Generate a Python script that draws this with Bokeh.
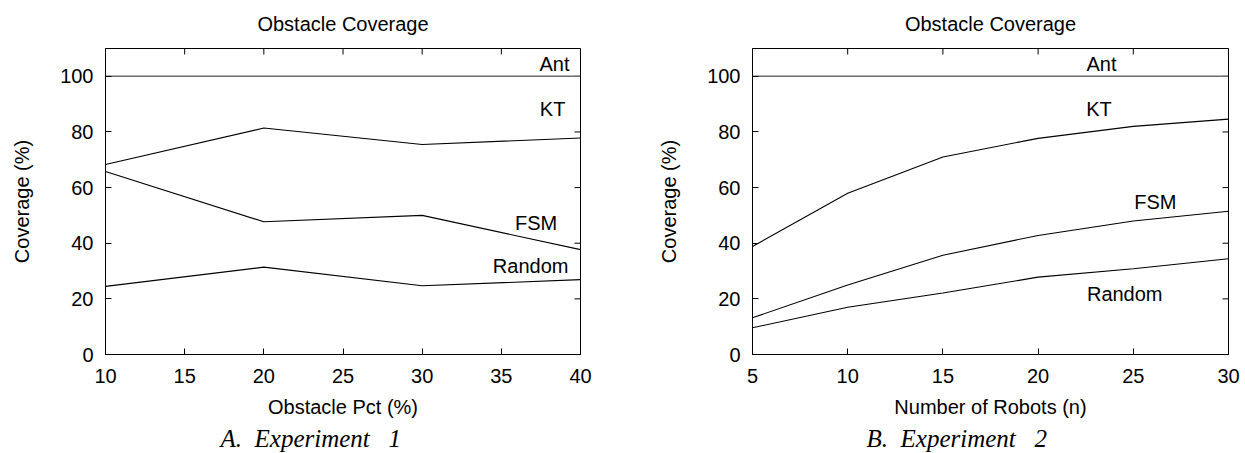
import math
from bokeh.plotting import figure
from bokeh.models import Title, Range1d, FixedTicker, ColumnDataSource
from bokeh.layouts import row
from bokeh.embed import file_html
from bokeh.resources import INLINE
from bokeh.core.properties import value

# ---------------- data ----------------
series_names = ["Ant", "KT", "FSM", "Random"]

exp1_x = [10, 20, 30, 40]
exp1_ant = [100, 100, 100, 100]
exp1_kt = [68.3, 81.4, 75.5, 77.8]
exp1_fsm = [65.8, 47.7, 50.0, 37.7]
exp1_random = [24.5, 31.4, 24.7, 26.9]

exp2_x = [5, 10, 15, 20, 25, 30]
exp2_ant = [100, 100, 100, 100, 100, 100]
exp2_kt = [38.8, 58.0, 71.0, 77.7, 82.0, 84.6]
exp2_fsm = [13.2, 25.0, 35.7, 42.8, 48.0, 51.5]
exp2_random = [9.6, 17.0, 22.1, 27.8, 30.8, 34.4]

y_ticks = [0, 20, 40, 60, 80, 100]
exp1_ticks = [10, 15, 20, 25, 30, 35, 40]
exp2_ticks = [5, 10, 15, 20, 25, 30]

# label anchor positions (data coords) for the series names
exp1_label_x = [38.36, 38.24, 37.2, 36.85]
exp1_label_y = [104.5, 88.3, 47.2, 31.7]
exp2_label_x = [23.33, 23.2, 26.16, 24.55]
exp2_label_y = [104.5, 88.3, 54.7, 21.6]

SANS = "Liberation Sans"
SERIF = "Liberation Serif"
FS = "20px"
Y_MAX = 110
TITLE = "Obstacle Coverage"


def style_axis(ax, ticks):
    ax.ticker = FixedTicker(ticks=ticks)
    ax.major_tick_in = 6
    ax.major_tick_out = 0
    ax.minor_tick_in = 0
    ax.minor_tick_out = 0
    ax.axis_line_color = "black"
    ax.major_tick_line_color = "black"
    ax.major_label_text_font = SANS
    ax.major_label_text_font_size = FS
    ax.major_label_text_color = "black"
    ax.axis_label_text_font = SANS
    ax.axis_label_text_font_style = "normal"
    ax.axis_label_text_font_size = FS
    ax.axis_label_text_color = "black"


def make(xs, ant, kt, fsm, rnd, xr, xticks, xlabel, caption, lx, ly,
         width, mb_left, mb_right, cap_offset):
    p = figure(width=width, height=453,
               x_range=Range1d(xr[0], xr[1]), y_range=Range1d(0, Y_MAX),
               output_backend="svg", toolbar_location=None,
               min_border_left=mb_left, min_border_right=mb_right,
               min_border_top=48, min_border_bottom=99,
               background_fill_color="white", border_fill_color="white")
    p.title = Title(text=TITLE, align="center", vertical_align="top",
                    text_font=SANS, text_font_size=FS,
                    text_font_style="normal", text_color="black", standoff=23)
    p.grid.visible = False
    p.outline_line_color = "black"
    p.outline_line_width = 1

    style_axis(p.xaxis[0], xticks)
    p.xaxis[0].major_label_standoff = 14
    p.xaxis[0].axis_label = xlabel
    p.xaxis[0].axis_label_standoff = 10
    style_axis(p.yaxis[0], y_ticks)
    p.yaxis[0].major_label_standoff = 12
    p.yaxis[0].axis_label = "Coverage (%)"
    p.yaxis[0].axis_label_standoff = 24

    # mirrored inward ticks on top and right edges (half of each dash is clipped by the frame)
    p.scatter(xticks, [Y_MAX] * len(xticks), marker="dash", size=12,
              angle=math.pi / 2, line_color="black", line_width=1)
    p.scatter([xr[1]] * len(y_ticks), y_ticks, marker="dash", size=12,
              line_color="black", line_width=1)

    p.line(xs, ant, line_color="#6e6e6e", line_width=1.6)
    p.line(xs, kt, line_color="black", line_width=1.1)
    p.line(xs, fsm, line_color="black", line_width=1.1)
    p.line(xs, rnd, line_color="black", line_width=1.1)

    src = ColumnDataSource(dict(x=lx, y=ly, t=series_names))
    p.text(x="x", y="y", text="t", source=src,
           text_font=value(SANS), text_font_size=FS, text_color="black",
           text_align="center", text_baseline="middle")

    cap = Title(text=caption, align="left", offset=cap_offset,
                text_font=SERIF, text_font_style="italic",
                text_font_size="25px", text_color="black", standoff=4)
    p.add_layout(cap, "below")
    return p


p1 = make(exp1_x, exp1_ant, exp1_kt, exp1_fsm, exp1_random, (10, 40),
          exp1_ticks, "Obstacle Pct (%)",
          "A.\u00a0\u00a0Experiment\u00a0\u00a0\u00a01",
          exp1_label_x, exp1_label_y, 620, 105, 40, 115)
p2 = make(exp2_x, exp2_ant, exp2_kt, exp2_fsm, exp2_random, (5, 30),
          exp2_ticks, "Number of Robots (n)",
          "B.\u00a0\u00a0Experiment\u00a0\u00a0\u00a02",
          exp2_label_x, exp2_label_y, 625, 132, 17, 114)

layout = row(p1, p2)
open("out.html", "w").write(file_html(layout, INLINE))
